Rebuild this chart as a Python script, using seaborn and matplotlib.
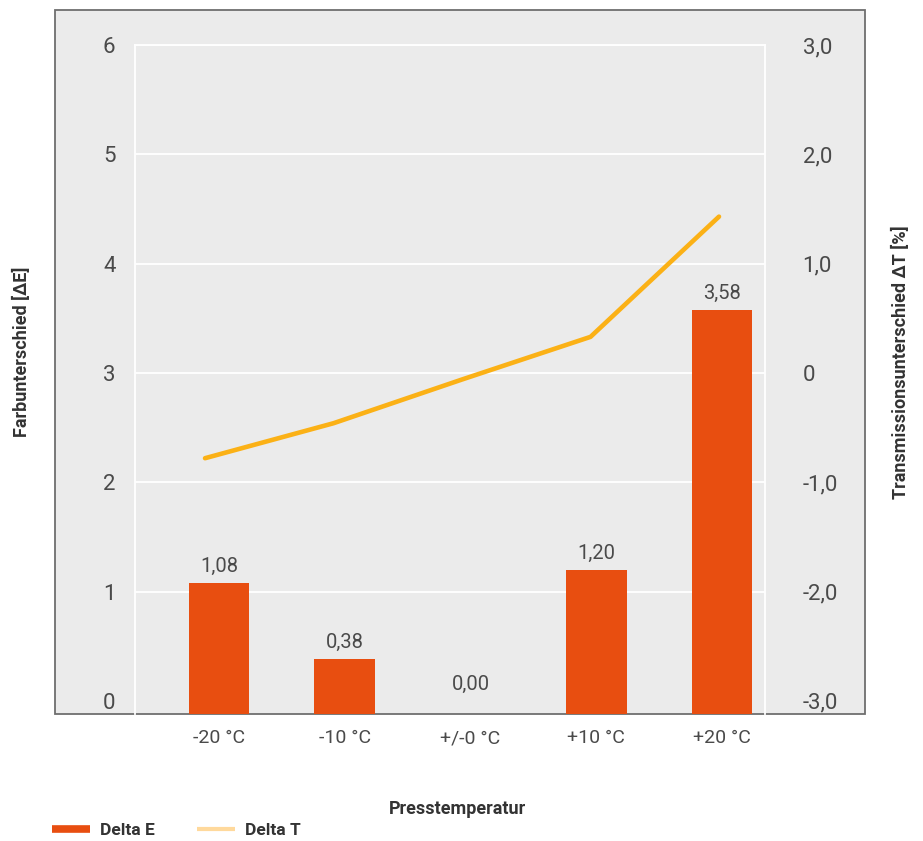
import matplotlib
matplotlib.use("Agg")
import matplotlib.pyplot as plt
import seaborn as sns
import pandas as pd
from matplotlib.patches import Rectangle
from matplotlib.lines import Line2D

# Press temperature categories and measured differences
temperatures = ["-20 °C", "-10 °C", "+/-0 °C", "+10 °C", "+20 °C"]
delta_e = [1.08, 0.38, 0.00, 1.20, 3.58]          # colour difference (left axis)
delta_t = [-0.78, -0.46, -0.06, 0.33, 1.43]       # transmission difference in % (right axis)

left_ticks = [0, 1, 2, 3, 4, 5, 6]
right_ticks = [-3, -2, -1, 0, 1, 2, 3]
right_tick_labels = ["-3,0", "-2,0", "-1,0", "0", "1,0", "2,0", "3,0"]

BAR_COLOR = "#e84e10"
LINE_COLOR = "#fbb116"
LEGEND_T_COLOR = "#ffd99c"
TEXT_COLOR = "#4a4a4a"
TITLE_COLOR = "#333333"

sns.set_theme(style="white")
plt.rcParams["font.family"] = ["Roboto", "DejaVu Sans"]

W, H = 923, 841
fig = plt.figure(figsize=(W / 100, H / 100), dpi=100)


def fx(px):
    return px / W


def fy(py):
    return 1 - py / H


# grey chart panel behind the plotting area
panel = Rectangle((fx(55), fy(714)), fx(865) - fx(55), fy(10) - fy(714),
                  transform=fig.transFigure, facecolor="#ebebeb",
                  edgecolor="#6e6e6e", lw=1.3, zorder=-10)
fig.patches.append(panel)

pos = [fx(135), fy(714), fx(765) - fx(135), fy(45) - fy(714)]

df = pd.DataFrame({"Presstemperatur": temperatures,
                   "Delta E": delta_e,
                   "Delta T": delta_t})

# ---- bars: colour difference ----
ax = fig.add_axes(pos)
ax.set_facecolor("none")
sns.barplot(data=df, x="Presstemperatur", y="Delta E", color=BAR_COLOR,
            saturation=1, width=0.485, linewidth=0, ax=ax, zorder=2)
ylo = -0.12
ax.set_ylim(ylo, 6)
ax.set_xlim(-0.668, 4.342)

for patch, v in zip(ax.patches, delta_e):
    if v > 0:
        patch.set_y(ylo)
        patch.set_height(v - ylo)
    ax.annotate(f"{v:.2f}".replace(".", ","),
                (patch.get_x() + patch.get_width() / 2, v),
                xytext=(0, 5), textcoords="offset points",
                ha="center", va="bottom", fontsize=14.5, color=TEXT_COLOR)

ax.set_yticks(left_ticks)
ax.yaxis.grid(True, color="white", lw=1.3)
ax.get_ygridlines()[0].set_visible(False)
ax.set_axisbelow(True)
for side in ["left", "right", "top"]:
    ax.spines[side].set_color("white")
    ax.spines[side].set_linewidth(1.3)
ax.spines["bottom"].set_visible(False)
ax.tick_params(axis="y", length=0, pad=14, labelsize=16, labelcolor=TEXT_COLOR)
ax.tick_params(axis="x", length=0, pad=11, labelsize=14, labelcolor=TEXT_COLOR)

ax.set_xlabel("Presstemperatur", fontweight="bold", fontsize=13, color=TITLE_COLOR)
ax.xaxis.set_label_coords((458 - 135) / 630, (714 - 800) / 669)
ax.set_ylabel("Farbunterschied [ΔE]", fontweight="bold", fontsize=13, color=TITLE_COLOR)
ax.yaxis.set_label_coords((31 - 135) / 630, (714 - 352) / 669)

# ---- line: transmission difference ----
ax2 = fig.add_axes(pos, frameon=False)
ax2.set_facecolor("none")
sns.lineplot(data=df, x="Presstemperatur", y="Delta T", color=LINE_COLOR,
             lw=3.3, sort=False, ax=ax2, solid_capstyle="round")
ax2.set_xlim(-0.545, 4.358)
ax2.set_ylim(-3.12, 3)
ax2.tick_params(axis="x", bottom=False, labelbottom=False)
ax2.set_xlabel("")
ax2.yaxis.tick_right()
ax2.yaxis.set_label_position("right")
ax2.set_yticks(right_ticks)
ax2.set_yticklabels(right_tick_labels)
ax2.tick_params(axis="y", length=0, pad=27, labelsize=16, labelcolor=TEXT_COLOR)
ax2.set_ylabel("Transmissionsunterschied ΔT [%]", fontweight="bold",
               fontsize=13, color=TITLE_COLOR)
ax2.yaxis.set_label_coords((892 - 135) / 630, (714 - 362) / 669)

# ---- legend ----
handles = [Line2D([], [], color=BAR_COLOR, lw=5.5, solid_capstyle="butt"),
           Line2D([], [], color=LEGEND_T_COLOR, lw=3, solid_capstyle="butt")]
fig.legend(handles=handles, labels=["Delta E", "Delta T"],
           loc="center left", bbox_to_anchor=(fx(36), fy(830)), ncol=2,
           frameon=False, prop=dict(weight="bold", size=12.5),
           labelcolor=TITLE_COLOR, handlelength=2.2, handletextpad=0.6,
           columnspacing=2.4)

fig.savefig("out.png", dpi=100, facecolor="white")
